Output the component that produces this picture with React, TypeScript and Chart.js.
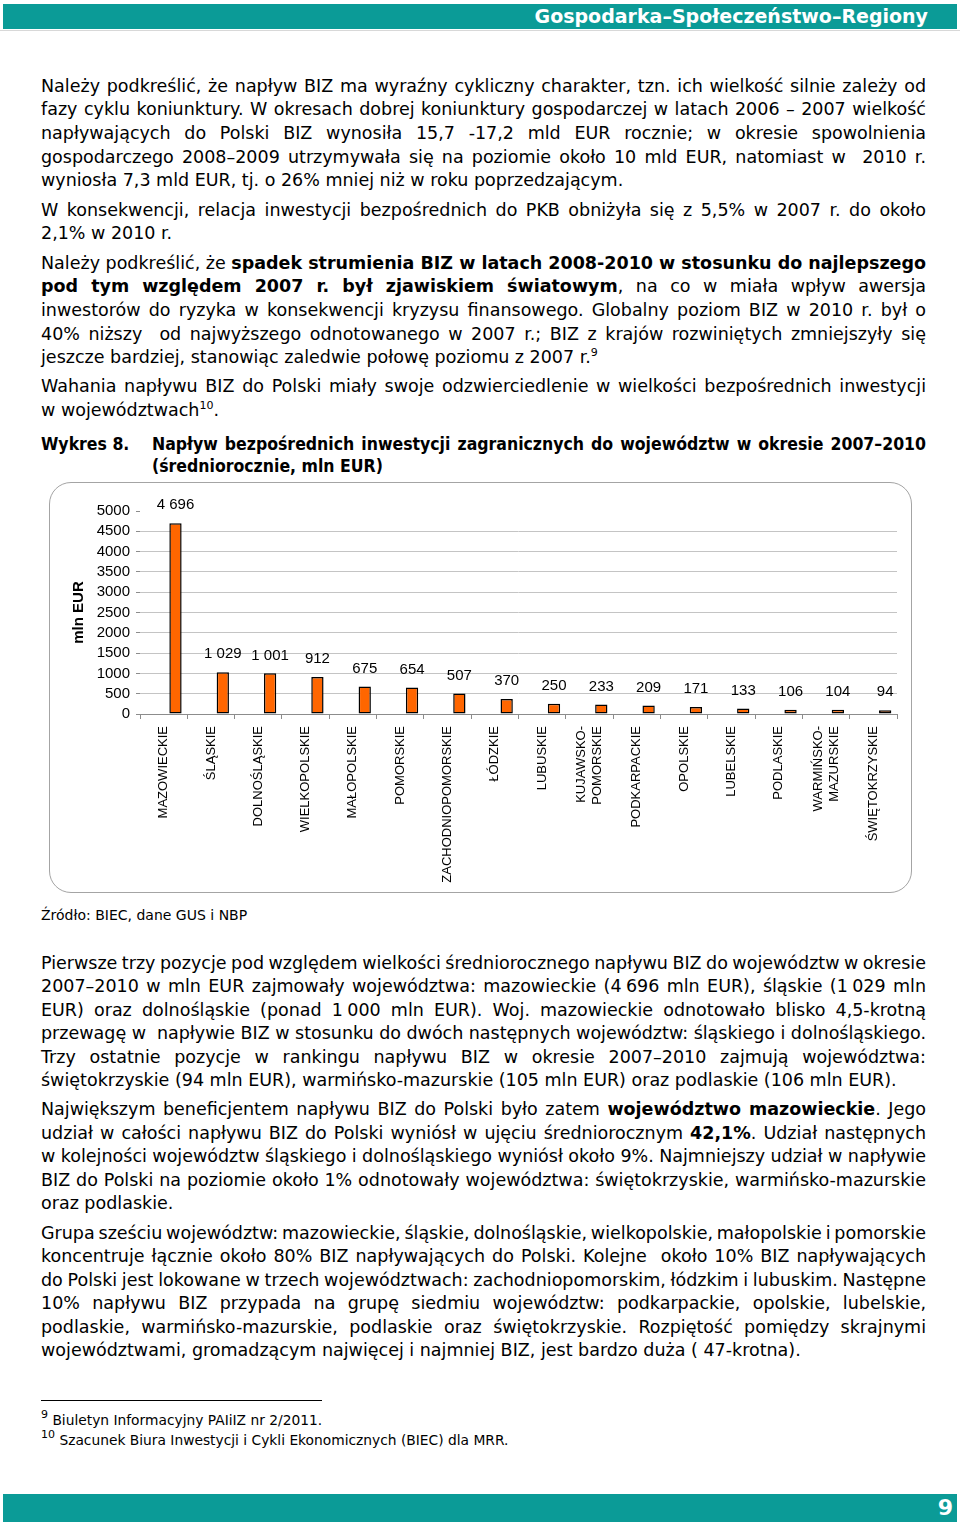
import React, { useEffect, useLayoutEffect, useRef } from 'react';
import Chart from 'chart.js/auto';

// chart data
const regions: (string | string[])[] = [
  'MAZOWIECKIE',
  'ŚLĄSKIE',
  'DOLNOŚLĄSKIE',
  'WIELKOPOLSKIE',
  'MAŁOPOLSKIE',
  'POMORSKIE',
  'ZACHODNIOPOMORSKIE',
  'ŁÓDZKIE',
  'LUBUSKIE',
  ['KUJAWSKO-', 'POMORSKIE'],
  'PODKARPACKIE',
  'OPOLSKIE',
  'LUBELSKIE',
  'PODLASKIE',
  ['WARMIŃSKO-', 'MAZURSKIE'],
  'ŚWIĘTOKRZYSKIE',
];
const inflowMlnEur: number[] = [4696, 1029, 1001, 912, 675, 654, 507, 370, 250, 233, 209, 171, 133, 106, 104, 94];
const yMax = 5000;
const yStep = 500;

const ARIAL = "'Liberation Sans', Arial, sans-serif";
const SANS = "'DejaVu Sans', sans-serif";
const COND = "'DejaVu Sans Condensed', 'DejaVu Sans', sans-serif";
const TEAL = '#0b9b97';

const fmt = (v: number) => String(v).replace(/\B(?=(\d{3})+(?!\d))/g, ' ');

const barLabels = {
  id: 'barLabels',
  afterDatasetsDraw(chart: any) {
    const { ctx } = chart;
    const meta = chart.getDatasetMeta(1);
    const xs = chart.scales.x;
    ctx.save();
    ctx.fillStyle = '#000';
    ctx.font = `15px ${ARIAL}`;
    ctx.textAlign = 'center';
    ctx.textBaseline = 'middle';
    meta.data.forEach((bar: any, i: number) => {
      ctx.fillText(fmt(inflowMlnEur[i]), bar.x, bar.y - 18);
    });
    // rotated category labels, multi-line ones centred on the tick
    ctx.font = `13px ${ARIAL}`;
    ctx.textAlign = 'right';
    regions.forEach((r, i) => {
      const lines = Array.isArray(r) ? r : [r];
      const px = xs.getPixelForTick(i);
      lines.forEach((ln, j) => {
        ctx.save();
        ctx.translate(px + (j - (lines.length - 1) / 2) * 16, xs.top + 12);
        ctx.rotate(-Math.PI / 2);
        ctx.fillText(ln, 0, 0);
        ctx.restore();
      });
    });
    ctx.restore();
  },
};

const InflowChart: React.FC = () => {
  const chartRef = useRef<HTMLCanvasElement | null>(null);

  useEffect(() => {
    if (!chartRef.current) return;
    const ctx = chartRef.current.getContext('2d');
    if (!ctx) return;
    const myChart = new Chart(ctx, {
      type: 'bar',
      data: {
        labels: regions as any,
        datasets: [
          { label: '', data: [], backgroundColor: 'rgba(0,0,0,0)' },
          {
            label: 'mln EUR',
            data: inflowMlnEur,
            backgroundColor: '#ff6600',
            borderColor: '#000',
            borderWidth: 1.5,
            borderSkipped: false,
          },
        ],
      },
      options: {
        animation: false,
        responsive: false,
        maintainAspectRatio: false,
        datasets: { bar: { categoryPercentage: 1, barPercentage: 0.52 } },
        layout: { padding: { top: 27, right: 13, left: 0, bottom: 0 } },
        plugins: { legend: { display: false }, tooltip: { enabled: false } },
        scales: {
          x: {
            grid: { display: true, offset: true, drawOnChartArea: false, color: '#8c8c8c', tickLength: 5 },
            border: { display: true, color: '#8c8c8c', width: 1 },
            ticks: { display: false },
            afterFit: (s: any) => {
              s.height = 178;
            },
          },
          y: {
            min: 0,
            max: yMax,
            ticks: {
              stepSize: yStep,
              autoSkip: false,
              color: '#000',
              font: { family: ARIAL, size: 15 },
              padding: 6,
              callback: (v: any) => String(v),
            },
            grid: {
              color: (c: any) =>
                c.tick && c.tick.value > 0 && c.tick.value < yMax ? '#c4c4c4' : 'rgba(0,0,0,0)',
              tickColor: '#8c8c8c',
              tickLength: 4,
            },
            border: { display: false },
            title: {
              display: true,
              text: 'mln EUR',
              color: '#000',
              font: { family: ARIAL, size: 15, weight: 'bold' },
              padding: { top: 20, bottom: 0 },
            },
            afterFit: (s: any) => {
              s.width = 90;
            },
          },
        },
      },
      plugins: [barLabels],
    } as any);
    return () => {
      myChart.destroy();
    };
  }, []);

  return <canvas ref={chartRef} width={860} height={408} style={{ display: 'block' }}></canvas>;
};

// page text: ** toggles bold, {n} is a superscript; w = justify target width
type Line = { y: number; t: string; x?: number; w?: number; cond?: boolean };

const J = 885;
const bodyLines: Line[] = [
  { y: 85, w: J, t: 'Należy podkreślić, że napływ BIZ ma wyraźny cykliczny charakter, tzn. ich wielkość silnie zależy od' },
  { y: 108.7, w: J, t: 'fazy cyklu koniunktury. W okresach dobrej koniunktury gospodarczej w latach 2006 – 2007 wielkość' },
  { y: 132.4, w: J, t: 'napływających do Polski BIZ wynosiła 15,7 -17,2 mld EUR rocznie; w okresie spowolnienia' },
  { y: 156.1, w: J, t: 'gospodarczego 2008–2009 utrzymywała się na poziomie około 10 mld EUR, natomiast w  2010 r.' },
  { y: 179.8, t: 'wyniosła 7,3 mld EUR, tj. o 26% mniej niż w roku poprzedzającym.' },
  { y: 209, w: J, t: 'W konsekwencji, relacja inwestycji bezpośrednich do PKB obniżyła się z 5,5% w 2007 r. do około' },
  { y: 232.7, t: '2,1% w 2010 r.' },
  { y: 262, w: J, t: 'Należy podkreślić, że **spadek strumienia BIZ w latach 2008-2010 w stosunku do najlepszego**' },
  { y: 285.7, w: J, t: '**pod tym względem 2007 r. był zjawiskiem światowym**, na co w miała wpływ awersja' },
  { y: 309.4, w: J, t: 'inwestorów do ryzyka w konsekwencji kryzysu finansowego. Globalny poziom BIZ w 2010 r. był o' },
  { y: 333.1, w: J, t: '40% niższy  od najwyższego odnotowanego w 2007 r.; BIZ z krajów rozwiniętych zmniejszyły się' },
  { y: 356.8, t: 'jeszcze bardziej, stanowiąc zaledwie połowę poziomu z 2007 r.{9}' },
  { y: 385.5, w: J, t: 'Wahania napływu BIZ do Polski miały swoje odzwierciedlenie w wielkości bezpośrednich inwestycji' },
  { y: 409.2, t: 'w województwach{10}.' },
  { y: 443, cond: true, t: '**Wykres 8.**' },
  { y: 443, x: 152, w: 774, cond: true, t: '**Napływ bezpośrednich inwestycji zagranicznych do województw w okresie 2007–2010**' },
  { y: 465.5, x: 152, cond: true, t: '**(średniorocznie, mln EUR)**' },
  { y: 962, w: J, t: 'Pierwsze trzy pozycje pod względem wielkości średniorocznego napływu BIZ do województw w okresie' },
  { y: 985.5, w: J, t: '2007–2010 w mln EUR zajmowały województwa: mazowieckie (4\u2005696 mln EUR), śląskie (1\u2005029 mln' },
  { y: 1009, w: J, t: 'EUR) oraz dolnośląskie (ponad 1\u2005000 mln EUR). Woj. mazowieckie odnotowało blisko 4,5-krotną' },
  { y: 1032.5, w: J, t: 'przewagę w  napływie BIZ w stosunku do dwóch następnych województw: śląskiego i dolnośląskiego.' },
  { y: 1056, w: J, t: 'Trzy ostatnie pozycje w rankingu napływu BIZ w okresie 2007–2010 zajmują województwa:' },
  { y: 1079.5, t: 'świętokrzyskie (94 mln EUR), warmińsko-mazurskie (105 mln EUR) oraz podlaskie (106 mln EUR).' },
  { y: 1108.5, w: J, t: 'Największym beneficjentem napływu BIZ do Polski było zatem **województwo mazowieckie**. Jego' },
  { y: 1132, w: J, t: 'udział w całości napływu BIZ do Polski wyniósł w ujęciu średniorocznym **42,1%**. Udział następnych' },
  { y: 1155.5, w: J, t: 'w kolejności województw śląskiego i dolnośląskiego wyniósł około 9%. Najmniejszy udział w napływie' },
  { y: 1179, w: J, t: 'BIZ do Polski na poziomie około 1% odnotowały województwa: świętokrzyskie, warmińsko-mazurskie' },
  { y: 1202.5, t: 'oraz podlaskie.' },
  { y: 1232, w: J, t: 'Grupa sześciu województw: mazowieckie, śląskie, dolnośląskie, wielkopolskie, małopolskie i pomorskie' },
  { y: 1255.5, w: J, t: 'koncentruje łącznie około 80% BIZ napływających do Polski. Kolejne  około 10% BIZ napływających' },
  { y: 1279, w: J, t: 'do Polski jest lokowane w trzech województwach: zachodniopomorskim, łódzkim i lubuskim. Następne' },
  { y: 1302.5, w: J, t: '10% napływu BIZ przypada na grupę siedmiu województw: podkarpackie, opolskie, lubelskie,' },
  { y: 1326, w: J, t: 'podlaskie, warmińsko-mazurskie, podlaskie oraz świętokrzyskie. Rozpiętość pomiędzy skrajnymi' },
  { y: 1349.5, t: 'województwami, gromadzącym najwięcej i najmniej BIZ, jest bardzo duża ( 47-krotna).' },
];

function rich(text: string, supSize = 11) {
  const out: React.ReactNode[] = [];
  text.split('**').forEach((part, i) => {
    const bold = i % 2 === 1;
    part.split(/(\{[^}]+\})/).forEach((p, j) => {
      if (!p) return;
      const key = `${i}-${j}`;
      if (p.startsWith('{')) {
        out.push(
          <span key={key} style={{ fontSize: supSize, position: 'relative', top: -7, lineHeight: 0 }}>
            {p.slice(1, -1)}
          </span>,
        );
      } else {
        out.push(
          <span key={key} style={{ fontWeight: bold ? 'bold' : 'normal' }}>
            {p}
          </span>,
        );
      }
    });
  });
  return out;
}

const TextLine: React.FC<{ line: Line; size?: number; lh?: number }> = ({ line, size = 17.5, lh = 24 }) => (
  <div
    style={{
      position: 'absolute',
      left: line.x ?? 41,
      top: line.y - 11.5,
      height: lh,
      lineHeight: `${lh}px`,
      fontSize: size,
      fontFamily: line.cond ? COND : SANS,
      fontStretch: line.cond ? 'condensed' : 'normal',
      color: '#000',
    }}
  >
    <span data-jw={line.w ?? ''} style={{ display: 'inline-block', whiteSpace: 'pre' }}>
      {rich(line.t)}
    </span>
  </div>
);

const App: React.FC = () => {
  useLayoutEffect(() => {
    const justify = () => {
      document.querySelectorAll<HTMLElement>('[data-jw]').forEach((el) => {
        const target = Number(el.dataset.jw);
        if (!target) return;
        el.style.wordSpacing = '0px';
        const w = el.getBoundingClientRect().width;
        const gaps = (el.textContent || '').split(' ').length - 1;
        if (gaps > 0) el.style.wordSpacing = `${(target - w) / gaps}px`;
      });
    };
    justify();
    if ((document as any).fonts) (document as any).fonts.ready.then(justify);
  }, []);

  return (
    <div style={{ position: 'absolute', left: 0, top: 0, width: 960, height: 1529, background: '#fff', overflow: 'hidden' }}>
      {/* header */}
      <div style={{ position: 'absolute', left: 3, top: 4, width: 954, height: 25, background: TEAL }} />
      <div style={{ position: 'absolute', left: 0, top: 30, width: 960, height: 1, background: '#d8d8d8' }} />
      <div
        style={{
          position: 'absolute',
          right: 32,
          top: 4,
          height: 25,
          lineHeight: '25px',
          color: '#fff',
          fontFamily: SANS,
          fontWeight: 'bold',
          fontSize: 19,
        }}
      >
        Gospodarka–Społeczeństwo–Regiony
      </div>

      {bodyLines.map((l, i) => (
        <TextLine key={i} line={l} />
      ))}

      {/* chart frame */}
      <div
        style={{
          position: 'absolute',
          left: 49,
          top: 482,
          width: 861,
          height: 409,
          border: '1px solid #a4a4a4',
          borderRadius: 22,
        }}
      />
      <div style={{ position: 'absolute', left: 50, top: 484 }}>
        <InflowChart />
      </div>

      <TextLine line={{ y: 916.5, t: 'Źródło: BIEC, dane GUS i NBP' }} size={14} lh={20} />

      {/* footnotes */}
      <div style={{ position: 'absolute', left: 41, top: 1400, width: 281, height: 1, background: '#000' }} />
      <TextLine line={{ y: 1421.5, t: '{9} Biuletyn Informacyjny PAIiIZ nr 2/2011.' }} size={13.8} lh={20} />
      <TextLine line={{ y: 1441.5, t: '{10} Szacunek Biura Inwestycji i Cykli Ekonomicznych (BIEC) dla MRR.' }} size={13.8} lh={20} />

      {/* footer */}
      <div style={{ position: 'absolute', left: 3, top: 1494, width: 954, height: 28, background: TEAL }} />
      <div
        style={{
          position: 'absolute',
          right: 7,
          top: 1494,
          height: 28,
          lineHeight: '28px',
          color: '#fff',
          fontFamily: SANS,
          fontWeight: 'bold',
          fontSize: 22,
        }}
      >
        9
      </div>
    </div>
  );
};

export default App;
